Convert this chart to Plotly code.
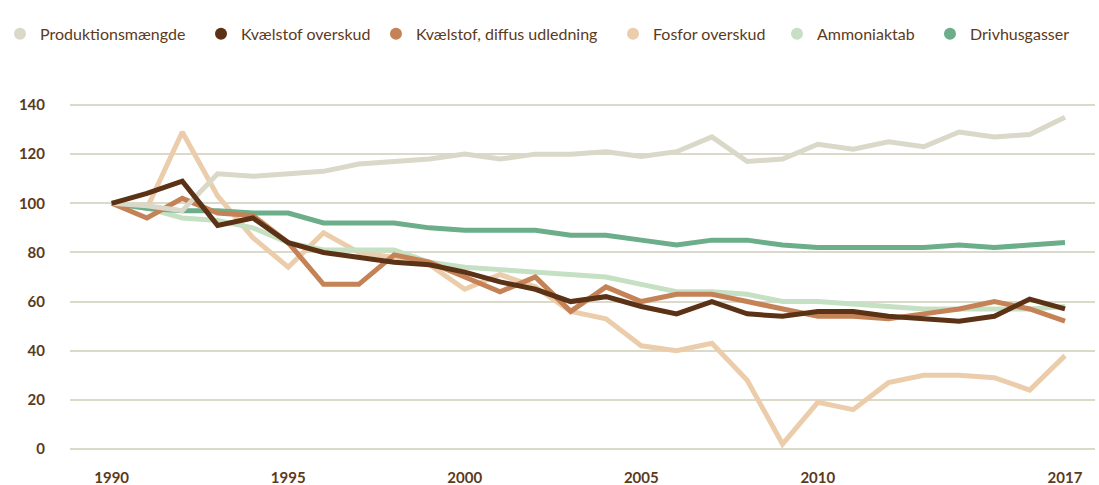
import plotly.graph_objects as go

# Index values (1990 = 100)
years = list(range(1990, 2018))

produktion = [100, 99, 97, 112, 111, 112, 113, 116, 117, 118, 120, 118, 120, 120,
              121, 119, 121, 127, 117, 118, 124, 122, 125, 123, 129, 127, 128, 135]
kv_overskud = [100, 104, 109, 91, 94, 84, 80, 78, 76, 75, 72, 68, 65, 60,
               62, 58, 55, 60, 55, 54, 56, 56, 54, 53, 52, 54, 61, 57]
kv_diffus = [100, 94, 102, 96, 95, 84, 67, 67, 79, 76, 70, 64, 70, 56,
             66, 60, 63, 63, 60, 57, 54, 54, 53, 55, 57, 60, 57, 52]
fosfor = [100, 98, 129, 103, 86, 74, 88, 80, 78, 75, 65, 71, 66, 56,
          53, 42, 40, 43, 28, 2, 19, 16, 27, 30, 30, 29, 24, 38]
ammoniak = [100, 98, 94, 93, 90, 84, 81, 81, 81, 76, 74, 73, 72, 71,
            70, 67, 64, 64, 63, 60, 60, 59, 58, 57, 57, 57, 57, 58]
drivhus = [100, 98, 97, 97, 96, 96, 92, 92, 92, 90, 89, 89, 89, 87,
           87, 85, 83, 85, 85, 83, 82, 82, 82, 82, 83, 82, 83, 84]

x_ticks = [1990, 1995, 2000, 2005, 2010, 2017]
y_ticks = [0, 20, 40, 60, 80, 100, 120, 140]

TEXT = "#5c3a1c"
GRID = "#dbd9c9"
FONT = "Lato"

# name, values, colour, legend position (fraction of page width)
series = [
    ("Produktionsmængde", produktion, "#d9d8c9", 0.0),
    ("Kvælstof overskud", kv_overskud, "#5b3215", 0.1829),
    ("Kvælstof, diffus udledning", kv_diffus, "#c48256", 0.3421),
    ("Fosfor overskud", fosfor, "#ebcdab", 0.5578),
    ("Ammoniaktab", ammoniak, "#c6e0c3", 0.7070),
    ("Drivhusgasser", drivhus, "#6bae89", 0.8462),
]

# drawing order, bottom to top
draw_order = [3, 4, 5, 2, 0, 1]

fig = go.Figure()

for i in draw_order:
    name, vals, color, _ = series[i]
    fig.add_trace(go.Scatter(
        x=years, y=vals, mode="lines", name=name,
        line=dict(color=color, width=5),
        showlegend=False, legendgroup=name,
        hovertemplate="%{x}: %{y}<extra>" + name + "</extra>",
    ))

legend_layout = {}
for k, (name, vals, color, lx) in enumerate(series):
    key = "legend" if k == 0 else f"legend{k + 1}"
    fig.add_trace(go.Scatter(
        x=[None], y=[None], mode="markers", name=name,
        marker=dict(color=color, size=12, symbol="circle"),
        legendgroup=name, legend=key, showlegend=True,
    ))
    legend_layout[key] = dict(
        x=lx, y=0.930, xref="container", yref="container",
        xanchor="left", yanchor="middle",
        orientation="h", bgcolor="rgba(0,0,0,0)",
        font=dict(family=FONT, size=16, color=TEXT),
        itemwidth=30,
    )

fig.update_layout(
    width=1099, height=485,
    margin=dict(l=70, r=4, t=95, b=19, autoexpand=False),
    paper_bgcolor="white", plot_bgcolor="white",
    font=dict(family=FONT, color=TEXT),
    **legend_layout,
)

fig.update_xaxes(
    range=[1988.82, 2017.85],
    tickmode="array", tickvals=x_ticks,
    ticktext=[str(v) for v in x_ticks],
    tickfont=dict(family=FONT, size=15, color=TEXT, weight="bold"),
    showgrid=False, zeroline=False, showline=False, ticks="",
    ticklabelstandoff=1, automargin=False,
)
fig.update_yaxes(
    range=[-6.92, 144.07],
    tickmode="array", tickvals=y_ticks,
    tickfont=dict(family=FONT, size=15, color=TEXT, weight="bold"),
    showgrid=True, gridcolor=GRID, gridwidth=1.5,
    zeroline=False, showline=False, ticks="",
    ticklabelstandoff=24, automargin=False,
)

fig.write_html("out.html")
